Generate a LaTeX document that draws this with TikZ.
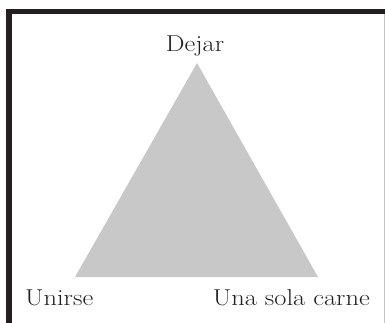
\documentclass[tikz,border=0pt]{standalone}
\usepackage{fontspec}
\setmainfont{Latin Modern Roman}
\newfontfamily\lblfont[FakeStretch=1.15]{Latin Modern Roman}
\definecolor{framek}{HTML}{231F20}
\definecolor{trigray}{HTML}{C8C8C8}
\definecolor{edgegray}{HTML}{C4C4C4}
\begin{document}
\begin{tikzpicture}[x=1pt,y=-1pt,
  lbl/.style={inner sep=0pt,font=\lblfont\fontsize{23}{26}\selectfont,text=framek}]
\useasboundingbox (0,0) rectangle (385,323);
% frame
\fill[framek] (6,9) rectangle (12,323);
\fill[framek] (6,9) rectangle (385,14);
\fill[edgegray] (384,14) rectangle (385,323);
% triangle
\coordinate (apex) at (197,63);
\coordinate (bl) at (75,277);
\coordinate (br) at (318,277);
\fill[trigray] (apex) -- (bl) -- (br) -- cycle;
% labels
\node[lbl,anchor=base] (dejar) at (195,52) {Dejar};
\node[lbl,anchor=base west] (unirse) at (25,305) {Unirse};
\node[lbl,anchor=base east] (carne) at (370,305) {Una sola carne};
\end{tikzpicture}
\end{document}
